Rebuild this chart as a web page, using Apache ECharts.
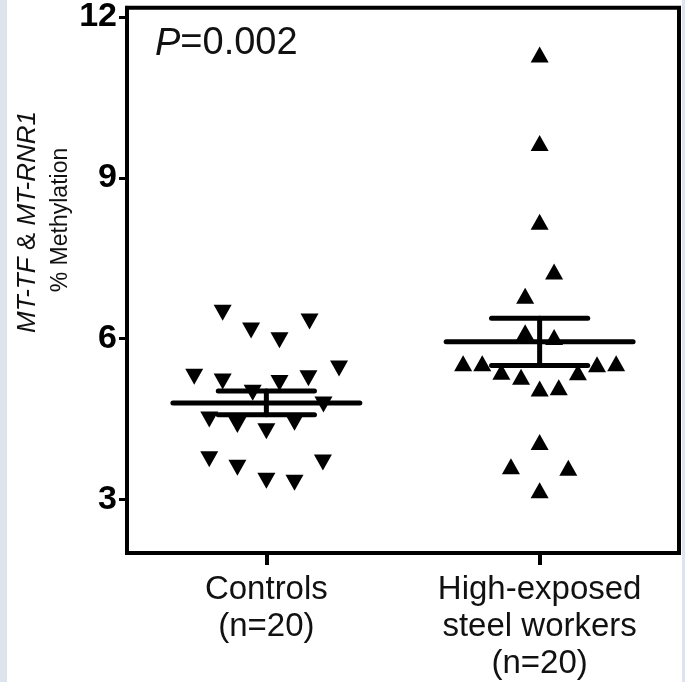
<!DOCTYPE html>
<html>
<head>
<meta charset="utf-8">
<script src="https://cdn.jsdelivr.net/npm/echarts@6/dist/echarts.min.js"></script>
<style>
html,body{margin:0;padding:0;background:#fff;}
#chart{width:685px;height:682px;}
</style>
</head>
<body>
<div id="chart"></div>
<script>
const categories = ['Controls\n(n=20)', 'High-exposed\nsteel workers\n(n=20)'];
const groupPositions = [1, 2];
const yTicks = [3, 6, 9, 12];

// Controls (downward triangles)
const controlsValues = [6.48, 6.15, 5.97, 6.32, 5.29, 5.20, 5.17, 5.26, 5.44, 4.77,
                        4.99, 4.49, 4.39, 4.27, 4.43, 3.75, 3.59, 3.35, 3.31, 3.69];
const controlsJitter = [-0.16, -0.056, 0.048, 0.158, -0.264, -0.16, 0.048, 0.154, 0.266, 0.209,
                        -0.05, -0.209, -0.106, 0, 0.103, -0.209, -0.106, 0, 0.103, 0.207];

// High-exposed steel workers (upward triangles)
const workersValues = [11.30, 9.65, 8.18, 7.25, 6.80, 6.12, 6.03, 5.54, 5.54, 5.38,
                       5.29, 5.07, 5.09, 5.37, 5.52, 5.54, 4.07, 3.62, 3.59, 3.17];
const workersJitter = [0, 0, 0, 0.053, -0.053, -0.053, 0.053, -0.28, -0.21, -0.14,
                       -0.068, 0, 0.07, 0.14, 0.21, 0.28, 0, -0.105, 0.105, 0];

const means = [4.80, 5.94];
const sems = [0.22, 0.44];
const pText = '=0.002';

const FONT = '"Liberation Sans", Arial, Helvetica, sans-serif';

const chart = echarts.init(document.getElementById('chart'), null, {renderer: 'canvas'});

const controlsData = controlsValues.map((v, i) => [groupPositions[0] + controlsJitter[i], v]);
const workersData = workersValues.map((v, i) => [groupPositions[1] + workersJitter[i], v]);
const summaryData = means.map((m, i) => [groupPositions[i], m, sems[i]]);

const option = {
  backgroundColor: '#ffffff',
  animation: false,
  grid: {
    left: 127, right: 6, top: 6, bottom: 127,
    show: true, borderColor: '#000', borderWidth: 4, backgroundColor: 'transparent'
  },
  xAxis: {
    type: 'value',
    min: 0.49, max: 2.51,
    splitLine: {show: false},
    axisLine: {show: true, lineStyle: {color: '#000', width: 4}},
    axisTick: {show: true, customValues: groupPositions, length: 12, lineStyle: {color: '#000', width: 4}},
    axisLabel: {
      customValues: groupPositions,
      formatter: v => categories[Math.round(v) - 1],
      color: '#111', fontFamily: FONT, fontSize: 33, lineHeight: 37, margin: 18, align: 'center'
    }
  },
  yAxis: {
    type: 'value',
    min: 2, max: 12.17,
    splitLine: {show: false},
    axisLine: {show: true, lineStyle: {color: '#000', width: 4}},
    axisTick: {show: true, customValues: yTicks, length: 8, lineStyle: {color: '#000', width: 3}},
    axisLabel: {
      customValues: yTicks,
      color: '#000', fontFamily: FONT, fontSize: 34, fontWeight: 'bold', margin: 10
    }
  },
  graphic: [
    {type: 'rect', shape: {x: 0, y: 0, width: 7, height: 682}, style: {fill: '#dde4ec'}, silent: true},
    {type: 'rect', shape: {x: 682, y: 0, width: 3, height: 682}, style: {fill: '#dde4ec'}, silent: true},
    {
      type: 'text', x: 28, y: 222, rotation: Math.PI / 2,
      style: {
        text: '{i|MT-TF} & {i|MT-RNR1}',
        fontFamily: FONT, fontSize: 26, fill: '#111', align: 'center', verticalAlign: 'middle',
        rich: {i: {fontStyle: 'italic', fontFamily: FONT, fontSize: 26, fill: '#111'}}
      }
    },
    {
      type: 'text', x: 61, y: 220, rotation: Math.PI / 2,
      style: {
        text: '% Methylation',
        fontFamily: FONT, fontSize: 23, fill: '#111', align: 'center', verticalAlign: 'middle'
      }
    },
    {
      type: 'text', x: 155, y: 44,
      style: {
        text: '{i|P}' + pText,
        fontFamily: FONT, fontSize: 38, fill: '#111', align: 'left', verticalAlign: 'middle',
        rich: {i: {fontStyle: 'italic', fontFamily: FONT, fontSize: 38, fill: '#111'}}
      }
    }
  ],
  series: [
    {
      type: 'scatter',
      name: 'Controls',
      data: controlsData,
      symbol: 'triangle',
      symbolRotate: 180,
      symbolSize: [18, 16],
      itemStyle: {color: '#000', opacity: 1},
      z: 2
    },
    {
      type: 'scatter',
      name: 'High-exposed steel workers',
      data: workersData,
      symbol: 'triangle',
      symbolSize: [18, 16],
      itemStyle: {color: '#000', opacity: 1},
      z: 2
    },
    {
      type: 'custom',
      name: 'Mean ± SEM',
      data: summaryData,
      z: 5,
      renderItem: function (params, api) {
        const x = api.value(0), m = api.value(1), s = api.value(2);
        const c = api.coord([x, m]);
        const hi = api.coord([x, m + s]);
        const lo = api.coord([x, m - s]);
        const hw = api.size([0.342, 0])[0];
        const cw = api.size([0.176, 0])[0];
        const st = {stroke: '#000', lineWidth: 5, lineCap: 'round'};
        return {
          type: 'group',
          children: [
            {type: 'line', shape: {x1: c[0] - hw, y1: c[1], x2: c[0] + hw, y2: c[1]}, style: st},
            {type: 'line', shape: {x1: c[0], y1: hi[1], x2: c[0], y2: lo[1]}, style: st},
            {type: 'line', shape: {x1: c[0] - cw, y1: hi[1], x2: c[0] + cw, y2: hi[1]}, style: st},
            {type: 'line', shape: {x1: c[0] - cw, y1: lo[1], x2: c[0] + cw, y2: lo[1]}, style: st}
          ]
        };
      }
    }
  ]
};
chart.setOption(option);
</script>
</body>
</html>
